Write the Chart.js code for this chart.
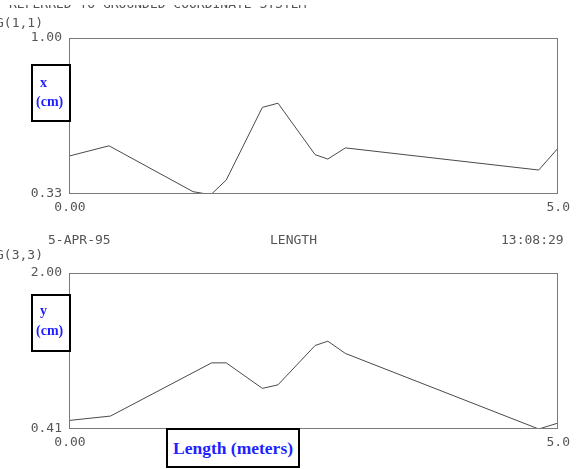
<!DOCTYPE html>
<html><head><meta charset="utf-8">
<script src="https://cdn.jsdelivr.net/npm/chart.js@4"></script>
<style>
html,body{margin:0;padding:0;background:#fff;}
#wrap{position:relative;width:576px;height:469px;overflow:hidden;background:#fff;}
canvas{position:absolute;left:0;top:0;}
.mono{position:absolute;font-family:"DejaVu Sans Mono",monospace;font-size:13px;color:#555;line-height:13px;white-space:pre;}
.clip{position:absolute;left:0;top:5px;width:576px;height:4px;overflow:hidden;}
.box{position:absolute;border:2px solid #000;background:#fff;box-sizing:border-box;}
.lab{position:absolute;font-family:"Liberation Serif","Times New Roman",serif;font-weight:bold;font-size:14px;line-height:14px;color:#1f1fff;white-space:pre;}
.lenbox{display:flex;align-items:center;justify-content:center;font-family:"Liberation Serif","Times New Roman",serif;font-weight:bold;font-size:17.5px;line-height:19px;color:#1f1fff;white-space:pre;}
</style></head>
<body>
<div id="wrap">
  <canvas id="c1" width="576" height="469"></canvas>
  <canvas id="c2" width="576" height="469"></canvas>
  <div class="clip"><div class="mono" style="left:9px;top:-8px;">REFERRED TO GROUNDED COORDINATE SYSTEM</div></div>
  <div class="mono" style="left:-4px;top:16px;">G(1,1)</div>
  <div class="mono" style="left:48px;top:233px;">5-APR-95</div>
  <div class="mono" style="left:270px;top:233px;">LENGTH</div>
  <div class="mono" style="left:501px;top:233px;">13:08:29</div>
  <div class="mono" style="left:-4px;top:248px;">G(3,3)</div>
  <div class="box" style="left:31px;top:64px;width:40px;height:58px;"></div>
  <div class="lab" style="left:40px;top:76px;">x</div>
  <div class="lab" style="left:36px;top:95px;">(cm)</div>
  <div class="box" style="left:31px;top:294px;width:40px;height:58px;"></div>
  <div class="lab" style="left:40px;top:304px;">y</div>
  <div class="lab" style="left:36px;top:324px;">(cm)</div>
  <div class="box lenbox" style="left:166px;top:428px;width:134px;height:40px;">Length (meters)</div>
</div>
<script>
// ---- data ----
const topX = [0, 0.40, 1.26, 1.40, 1.45, 1.60, 1.97, 2.13, 2.51, 2.64, 2.82, 4.80, 5.00];
const topY = [0.494, 0.537, 0.340, 0.330, 0.330, 0.390, 0.702, 0.720, 0.499, 0.480, 0.528, 0.433, 0.528];
const botX = [0, 0.415, 1.45, 1.60, 1.97, 2.13, 2.51, 2.64, 2.82, 4.80, 5.00];
const botY = [0.498, 0.542, 1.084, 1.084, 0.824, 0.860, 1.261, 1.305, 1.180, 0.410, 0.471];
const xRange = [0, 5];
const xTickLabels = ['0.00', '5.0'];
const topRange = [0.33, 1.00];
const topTickLabels = ['0.33', '1.00'];
const botRange = [0.41, 2.00];
const botTickLabels = ['0.41', '2.00'];

const monoFont = {family: '"DejaVu Sans Mono", monospace', size: 13};
const framePlugin = {
  id: 'frame',
  afterDraw(c) {
    const a = c.chartArea, ctx = c.ctx;
    ctx.save();
    ctx.strokeStyle = '#7a7a7a';
    ctx.lineWidth = 1;
    ctx.strokeRect(Math.round(a.left) - 0.5, Math.round(a.top) + 0.5,
                   Math.round(a.right - a.left), Math.round(a.bottom - a.top) - 1);
    ctx.restore();
  }
};

function makeChart(id, xs, ys, yRange, yLabels, pad) {
  return new Chart(document.getElementById(id), {
    type: 'scatter',
    data: {
      datasets: [{
        data: xs.map((x, i) => ({x: x, y: ys[i]})),
        showLine: true,
        borderColor: '#4a4a4a',
        borderWidth: 1,
        pointRadius: 0,
        tension: 0,
        fill: false
      }]
    },
    options: {
      responsive: false,
      animation: false,
      devicePixelRatio: 1,
      layout: {padding: pad},
      plugins: {legend: {display: false}, tooltip: {enabled: false}, title: {display: false}},
      scales: {
        x: {
          type: 'linear', min: xRange[0], max: xRange[1],
          grid: {display: false, drawTicks: false},
          border: {display: false},
          afterBuildTicks: s => { s.ticks = [{value: xRange[0]}, {value: xRange[1]}]; },
          afterFit: s => { s.height = 20; },
          ticks: {
            autoSkip: false, maxRotation: 0, padding: 6, color: '#555', font: monoFont,
            callback: (v, i) => xTickLabels[i]
          }
        },
        y: {
          type: 'linear', min: yRange[0], max: yRange[1],
          grid: {display: false, drawTicks: false},
          border: {display: false},
          afterBuildTicks: s => { s.ticks = [{value: yRange[0]}, {value: yRange[1]}]; },
          afterFit: s => { s.width = 70; },
          ticks: {
            autoSkip: false, padding: 8, color: '#555', font: monoFont,
            callback: (v, i) => yLabels[i]
          }
        }
      }
    },
    plugins: [framePlugin]
  });
}

makeChart('c1', topX, topY, topRange, topTickLabels, {left: 0, top: 38, right: 17, bottom: 255});
makeChart('c2', botX, botY, botRange, botTickLabels, {left: 0, top: 273, right: 17, bottom: 20});
</script>
</body></html>
